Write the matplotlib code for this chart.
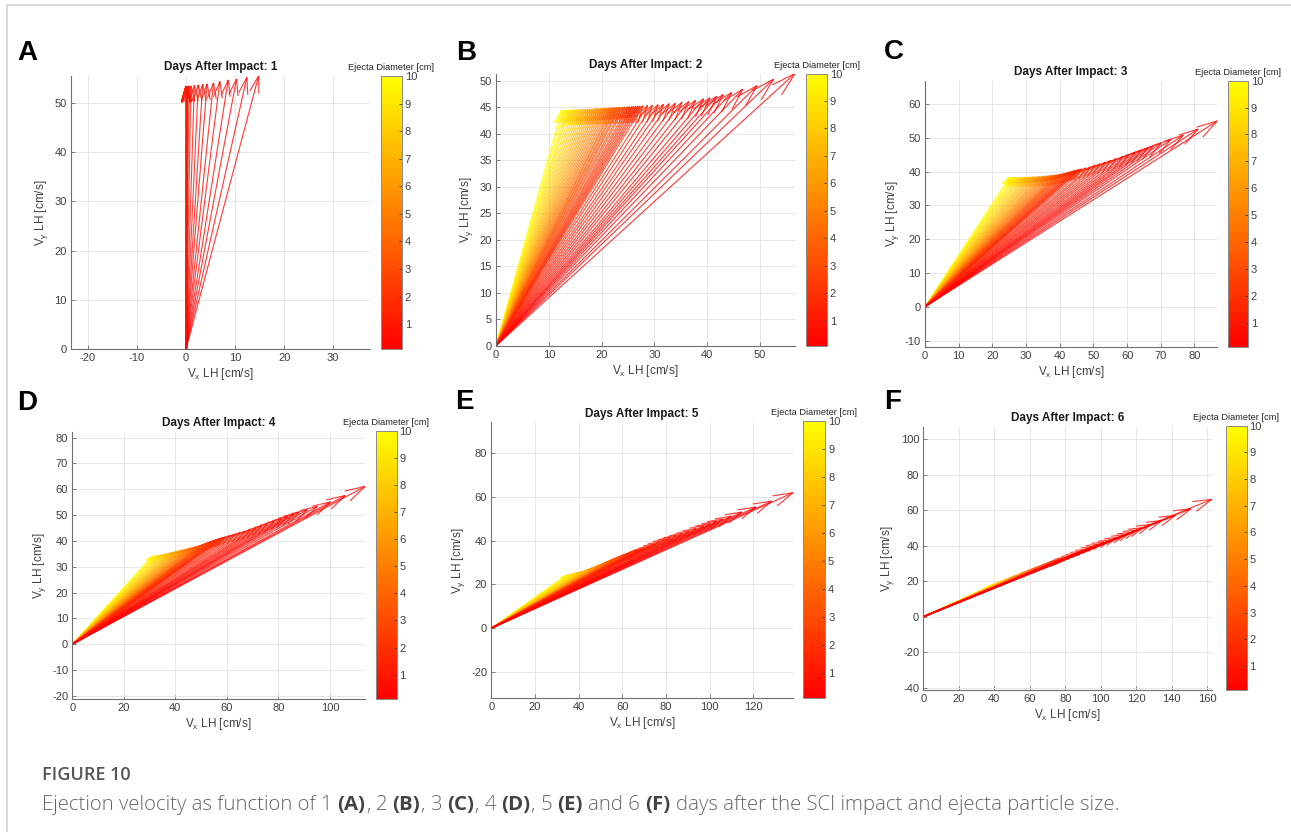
import matplotlib
matplotlib.use('Agg')
import matplotlib.pyplot as plt
from matplotlib.cm import ScalarMappable
from matplotlib.collections import LineCollection
from matplotlib.colors import Normalize
from matplotlib.lines import Line2D
from matplotlib.ticker import MultipleLocator
import numpy as np

plt.rcParams['font.family'] = ['Liberation Sans', 'DejaVu Sans']
plt.rcParams['mathtext.default'] = 'regular'
plt.rcParams['axes.unicode_minus'] = False


# ejecta diameters [cm], shared by every panel
DIAMETERS = [0.1, 0.15, 0.2, 0.25, 0.3, 0.35, 0.4, 0.45, 0.5, 0.6, 0.7, 0.8, 0.9, 1.0, 1.1,
             1.2, 1.3, 1.4, 1.5, 1.6, 1.7, 1.8, 1.9, 2.0, 2.2, 2.4, 2.6, 2.8, 3.0, 3.2,
             3.4, 3.6, 3.8, 4.0, 4.25, 4.5, 4.75, 5.0, 5.25, 5.5, 5.75, 6.0, 6.25, 6.5, 6.75,
             7.0, 7.25, 7.5, 7.75, 8.0, 8.25, 8.5, 8.75, 9.0, 9.25, 9.5, 9.75, 10.0]

# velocity tips [cm/s], same order as DIAMETERS
A_VX = [14.8, 12.4, 10.3, 8.6, 6.9, 5.6, 4.3, 3.4, 2.5, 1.7, 1.0, 0.6, 0.3, 0.2, 0.1,
        0.1, 0.1, 0.1, 0.0, 0.0, 0.0, 0.0, 0.0, 0.0, 0.0, 0.0, 0.0, 0.0, 0.0, 0.0,
        0.0, 0.0, 0.0, 0.0, 0.0, 0.0, 0.0, 0.0, 0.0, 0.0, 0.0, 0.0, 0.0, 0.0, 0.0,
        0.0, 0.0, 0.0, 0.0, 0.0, 0.0, 0.0, 0.0, 0.0, 0.0, 0.0, 0.0, 0.0]
A_VY = [55.5, 55.2, 54.9, 54.7, 54.4, 54.1, 53.9, 53.8, 53.7, 53.6, 53.5, 53.5, 53.4, 53.4, 53.4,
        53.4, 53.4, 53.4, 53.4, 53.4, 53.4, 53.4, 53.4, 53.4, 53.4, 53.4, 53.4, 53.4, 53.4, 53.4,
        53.4, 53.4, 53.4, 53.4, 53.4, 53.4, 53.4, 53.4, 53.4, 53.4, 53.4, 53.4, 53.4, 53.4, 53.4,
        53.4, 53.4, 53.4, 53.4, 53.4, 53.4, 53.4, 53.4, 53.4, 53.4, 53.4, 53.4, 53.4]

B_VX = [56.6, 52.5, 49.4, 46.7, 44.6, 43.0, 41.8, 40.5, 39.3, 37.8, 36.5, 35.2, 34.0, 32.8, 31.7,
        30.7, 29.6, 28.7, 27.8, 27.3, 26.9, 26.5, 26.1, 25.7, 25.3, 24.9, 24.4, 24.0, 23.5, 23.2,
        22.8, 22.5, 22.1, 21.8, 21.4, 21.0, 20.6, 20.2, 19.8, 19.4, 19.0, 18.6, 18.2, 17.8, 17.4,
        17.0, 16.6, 16.2, 15.8, 15.4, 15.0, 14.6, 14.2, 13.8, 13.5, 13.1, 12.75, 12.4]
B_VY = [51.4, 50.3, 49.1, 48.4, 47.8, 47.4, 47.1, 46.8, 46.6, 46.35, 46.1, 45.95, 45.8, 45.7, 45.6,
        45.5, 45.4, 45.35, 45.3, 45.25, 45.25, 45.2, 45.2, 45.15, 45.15, 45.1, 45.1, 45.05, 45.0, 45.0,
        45.0, 44.95, 44.95, 44.9, 44.9, 44.9, 44.85, 44.85, 44.8, 44.8, 44.8, 44.75, 44.75, 44.7, 44.7,
        44.7, 44.65, 44.65, 44.6, 44.6, 44.6, 44.55, 44.55, 44.5, 44.5, 44.5, 44.5, 44.5]

C_VX = [86.8, 81.1, 76.7, 73.0, 70.1, 67.8, 66.1, 64.3, 62.6, 60.5, 58.7, 56.8, 55.2, 53.6, 52.0,
        50.5, 49.1, 47.7, 46.5, 45.9, 45.3, 44.8, 44.2, 43.7, 43.0, 42.4, 41.8, 41.2, 40.6, 40.1,
        39.6, 39.1, 38.6, 38.1, 37.5, 37.0, 36.4, 35.9, 35.3, 34.8, 34.2, 33.7, 33.1, 32.5, 32.0,
        31.4, 30.9, 30.3, 29.8, 29.2, 28.6, 28.1, 27.5, 27.0, 26.5, 26.0, 25.5, 25.0]
C_VY = [55.0, 52.6, 50.8, 49.5, 48.4, 47.6, 47.0, 46.4, 45.8, 45.0, 44.4, 43.8, 43.3, 42.8, 42.3,
        41.9, 41.4, 41.1, 40.8, 40.7, 40.5, 40.4, 40.25, 40.1, 39.9, 39.75, 39.6, 39.45, 39.3, 39.2,
        39.1, 39.0, 38.95, 38.9, 38.85, 38.8, 38.75, 38.7, 38.65, 38.6, 38.55, 38.5, 38.5, 38.45, 38.45,
        38.4, 38.4, 38.4, 38.35, 38.35, 38.35, 38.3, 38.3, 38.3, 38.3, 38.3, 38.3, 38.3]

D_VX = [113.6, 105.9, 100.1, 95.1, 91.2, 88.1, 85.9, 83.5, 81.2, 78.4, 75.9, 73.4, 71.2, 69.1, 67.0,
        65.0, 63.1, 61.3, 59.6, 58.8, 58.0, 57.3, 56.6, 55.8, 55.0, 54.1, 53.3, 52.5, 51.7, 51.0,
        50.3, 49.7, 49.0, 48.4, 47.6, 46.9, 46.1, 45.4, 44.6, 43.9, 43.1, 42.4, 41.6, 40.9, 40.2,
        39.4, 38.7, 37.9, 37.2, 36.4, 35.7, 34.9, 34.2, 33.4, 32.8, 32.1, 31.5, 30.8]
D_VY = [61.1, 57.6, 55.1, 53.4, 52.1, 51.1, 50.3, 49.4, 48.6, 47.6, 46.7, 45.8, 44.9, 44.3, 43.7,
        43.2, 42.6, 42.1, 41.6, 41.4, 41.1, 40.9, 40.7, 40.4, 40.1, 39.8, 39.5, 39.2, 38.9, 38.6,
        38.4, 38.2, 38.0, 37.9, 37.7, 37.5, 37.3, 37.1, 36.9, 36.7, 36.6, 36.4, 36.2, 36.1, 35.9,
        35.7, 35.6, 35.4, 35.2, 35.1, 34.9, 34.8, 34.6, 34.5, 34.3, 34.2, 34.1, 34.0]

E_VX = [138.1, 128.4, 121.1, 114.7, 109.8, 106.0, 103.2, 100.1, 97.3, 93.8, 90.6, 87.5, 84.7, 82.0, 79.4,
        76.9, 74.5, 72.2, 70.1, 69.1, 68.1, 67.2, 66.2, 65.3, 64.3, 63.2, 62.2, 61.1, 60.1, 59.2,
        58.4, 57.6, 56.7, 55.9, 55.0, 54.0, 53.1, 52.2, 51.2, 50.3, 49.3, 48.4, 47.5, 46.5, 45.6,
        44.6, 43.7, 42.8, 41.8, 40.9, 40.0, 39.0, 38.1, 37.1, 36.3, 35.5, 34.6, 33.8]
E_VY = [61.9, 58.1, 55.4, 53.1, 51.2, 49.9, 48.9, 47.8, 46.9, 45.6, 44.5, 43.4, 42.5, 41.6, 40.7,
        39.6, 38.6, 37.6, 36.7, 36.3, 35.9, 35.5, 35.1, 34.7, 34.5, 34.0, 33.6, 33.2, 32.8, 32.5,
        32.1, 31.8, 31.4, 31.1, 30.7, 30.3, 29.9, 29.6, 29.2, 28.8, 28.4, 28.1, 27.8, 27.4, 27.1,
        26.8, 26.4, 26.1, 25.9, 25.7, 25.5, 25.3, 25.1, 24.9, 24.6, 24.4, 24.1, 23.9]

F_VX = [162.5, 150.8, 142.0, 134.4, 128.5, 123.8, 120.5, 116.8, 113.4, 109.2, 105.4, 101.6, 98.2, 95.0, 91.8,
        88.8, 85.9, 83.2, 80.7, 79.4, 78.3, 77.2, 76.0, 74.9, 73.6, 72.4, 71.1, 69.9, 68.6, 67.6,
        66.6, 65.6, 64.6, 63.6, 62.5, 61.3, 60.2, 59.1, 58.0, 56.8, 55.7, 54.6, 53.4, 52.3, 51.2,
        50.1, 48.9, 47.8, 46.7, 45.5, 44.4, 43.3, 42.1, 41.0, 40.0, 39.0, 38.0, 37.0]
F_VY = [66.2, 60.9, 57.2, 54.3, 52.1, 50.3, 49.0, 47.6, 46.3, 44.8, 43.4, 42.2, 40.9, 39.6, 38.2,
        37.0, 35.8, 34.6, 33.6, 33.0, 32.5, 32.1, 31.6, 31.2, 30.7, 30.3, 29.8, 29.3, 28.8, 28.5,
        28.1, 27.7, 27.3, 27.0, 26.6, 26.1, 25.7, 25.3, 24.9, 24.4, 24.0, 23.6, 23.2, 22.7, 22.3,
        21.9, 21.5, 21.0, 20.6, 20.2, 19.7, 19.3, 18.9, 18.5, 18.1, 17.8, 17.4, 17.0]

DAYS = [1, 2, 3, 4, 5, 6]
LETTERS = ['A', 'B', 'C', 'D', 'E', 'F']
TIPS = [(A_VX, A_VY), (B_VX, B_VY), (C_VX, C_VY), (D_VX, D_VY), (E_VX, E_VY), (F_VX, F_VY)]
CBAR_TICKS = [1, 2, 3, 4, 5, 6, 7, 8, 9, 10]

CAPTION_HEAD = 'FIGURE 10'
CAPTION = [
    ('Ejection velocity as function of 1', 'light', True), ('(A)', 'bold', False),
    (',', 'light', True), ('2', 'light', True), ('(B)', 'bold', False),
    (',', 'light', True), ('3', 'light', True), ('(C)', 'bold', False),
    (',', 'light', True), ('4', 'light', True), ('(D)', 'bold', False),
    (',', 'light', True), ('5', 'light', True), ('(E)', 'bold', True),
    ('and 6', 'light', True), ('(F)', 'bold', True),
    ('days after the SCI impact and ejecta particle size.', 'light', False),
]
CAPTION_FONT = ['Open Sans', 'DejaVu Sans']

# layout, in pixels of the 1291x832 picture: (left, top, right, bottom)
W, H = 1291, 832
AX_BOX = [(70.7, 76.0, 370.0, 349.0), (496.0, 74.0, 795.0, 345.7), (925.0, 80.7, 1217.0, 346.7),
          (72.3, 431.7, 365.0, 699.3), (491.3, 422.3, 792.7, 698.3), (923.3, 426.7, 1211.7, 690.0)]
CB_BOX = [(381.0, 76.0, 402.0, 349.0), (806.0, 73.5, 827.0, 345.7), (1227.7, 80.7, 1248.0, 346.7),
          (375.7, 430.7, 396.7, 699.0), (803.3, 420.7, 825.3, 698.3), (1226.0, 425.7, 1246.7, 690.0)]
XLIMS = [(-23.5, 37.5), (0, 56.6), (0, 86.7), (0, 113.6), (0, 138.0), (0, 162.5)]
YLIMS = [(0, 55.5), (0, 51.3), (-11.8, 66.9), (-21.3, 82.3), (-32.0, 94.1), (-41.3, 107.2)]
XSTEP = [10, 10, 10, 20, 20, 20]
YSTEP = [10, 5, 10, 10, 20, 20]
LETTER_POS = [(17, 60), (456, 60), (884, 59), (17, 410), (455, 409), (884, 409)]

GRID_COLOR = '#e6e6e6'


def rect(box):
    left, top, right, bottom = box
    return [left / W, 1 - bottom / H, (right - left) / W, (bottom - top) / H]


def draw_arrows(ax, vx, vy, cmap, norm):
    # large particles first, so the small (red) ones end up on top
    order = np.argsort(DIAMETERS, kind='stable')[::-1]
    to_px = ax.transData
    to_data = ax.transData.inverted()
    segs, cols = [], []
    for i in order:
        tip = (vx[i], vy[i])
        p0, p1 = to_px.transform([(0, 0), tip])
        d = p1 - p0
        length = np.hypot(d[0], d[1])
        u = d / length
        n = np.array([-u[1], u[0]])
        head = 0.06 * length
        b1, b2 = to_data.transform([p1 - head * u + 0.28 * head * n,
                                    p1 - head * u - 0.28 * head * n])
        c = cmap(norm(DIAMETERS[i]))
        segs += [[(0, 0), tip], [tip, tuple(b1)], [tip, tuple(b2)]]
        cols += [c, c, c]
    ax.add_collection(LineCollection(segs, colors=cols, linewidths=0.85, alpha=0.75, zorder=2))


def style_axes(ax, index):
    ax.set_xlim(*XLIMS[index])
    ax.set_ylim(*YLIMS[index])
    ax.xaxis.set_major_locator(MultipleLocator(XSTEP[index]))
    ax.yaxis.set_major_locator(MultipleLocator(YSTEP[index]))
    ax.set_axisbelow(True)
    ax.grid(True, color=GRID_COLOR, linewidth=0.7)
    for side in ['top', 'right']:
        ax.spines[side].set_visible(False)
    for side in ['left', 'bottom']:
        ax.spines[side].set_color('#6f6f6f')
        ax.spines[side].set_linewidth(0.8)
    ax.tick_params(direction='in', length=3, width=0.6, labelsize=8, colors='#6f6f6f',
                   labelcolor='#404040', pad=3)
    ax.set_xlabel('V$_x$ LH [cm/s]', fontsize=8.5, color='#404040', labelpad=2)
    ax.set_ylabel('V$_y$ LH [cm/s]', fontsize=8.5, color='#404040', labelpad=3)
    ax.set_title(f'Days After Impact: {DAYS[index]}', fontsize=8.5, fontweight='bold',
                 color='#1a1a1a', pad=4)


def draw_caption(fig):
    fig.text(41.7 / W, 1 - 780 / H, CAPTION_HEAD, fontsize=13, fontweight='semibold',
             color='#555555', family=CAPTION_FONT, va='baseline')
    renderer = fig.canvas.get_renderer()
    probe = fig.text(0, 0, 'x x', fontsize=14.7, fontweight='light', family=CAPTION_FONT)
    probe2 = fig.text(0, 0, 'xx', fontsize=14.7, fontweight='light', family=CAPTION_FONT)
    space = probe.get_window_extent(renderer).width - probe2.get_window_extent(renderer).width
    probe.remove()
    probe2.remove()
    x = 41.7
    for text, weight, gap in CAPTION:
        color = '#444444' if weight == 'bold' else '#666666'
        t = fig.text(x / W, 1 - 810 / H, text, fontsize=14.7, fontweight=weight, color=color,
                     family=CAPTION_FONT, va='baseline')
        x += t.get_window_extent(renderer).width + (space if gap else 0.5)


def main():
    fig = plt.figure(figsize=(W / 100, H / 100), dpi=100)
    norm = Normalize(vmin=0.1, vmax=10)
    cmap = plt.get_cmap('autumn')

    for index, (vx, vy) in enumerate(TIPS):
        ax = fig.add_axes(rect(AX_BOX[index]))
        style_axes(ax, index)
        draw_arrows(ax, vx, vy, cmap, norm)

        cax = fig.add_axes(rect(CB_BOX[index]))
        cb = fig.colorbar(ScalarMappable(norm=norm, cmap=cmap), cax=cax, ticks=CBAR_TICKS)
        cb.outline.set_edgecolor('#8a8a8a')
        cb.outline.set_linewidth(0.7)
        cax.tick_params(direction='in', length=2.5, width=0.6, labelsize=8, colors='#404040', pad=2)
        cax.set_title('Ejecta Diameter [cm]', fontsize=6.7, color='#262626', pad=4)

        lx, ly = LETTER_POS[index]
        fig.text(lx / W, 1 - ly / H, LETTERS[index], fontsize=20, fontweight='bold',
                 color='black', va='baseline', ha='left')

    # thin frame on the top and left of the figure panel
    fig.add_artist(Line2D([6.5 / W, 1], [1 - 5 / H, 1 - 5 / H], color='#d2d2d2', linewidth=1.2))
    fig.add_artist(Line2D([6.5 / W, 6.5 / W], [0, 1 - 5 / H], color='#d2d2d2', linewidth=1.2))

    draw_caption(fig)

    fig.savefig('out.png', dpi=100)
    plt.close(fig)


if __name__ == '__main__':
    main()
